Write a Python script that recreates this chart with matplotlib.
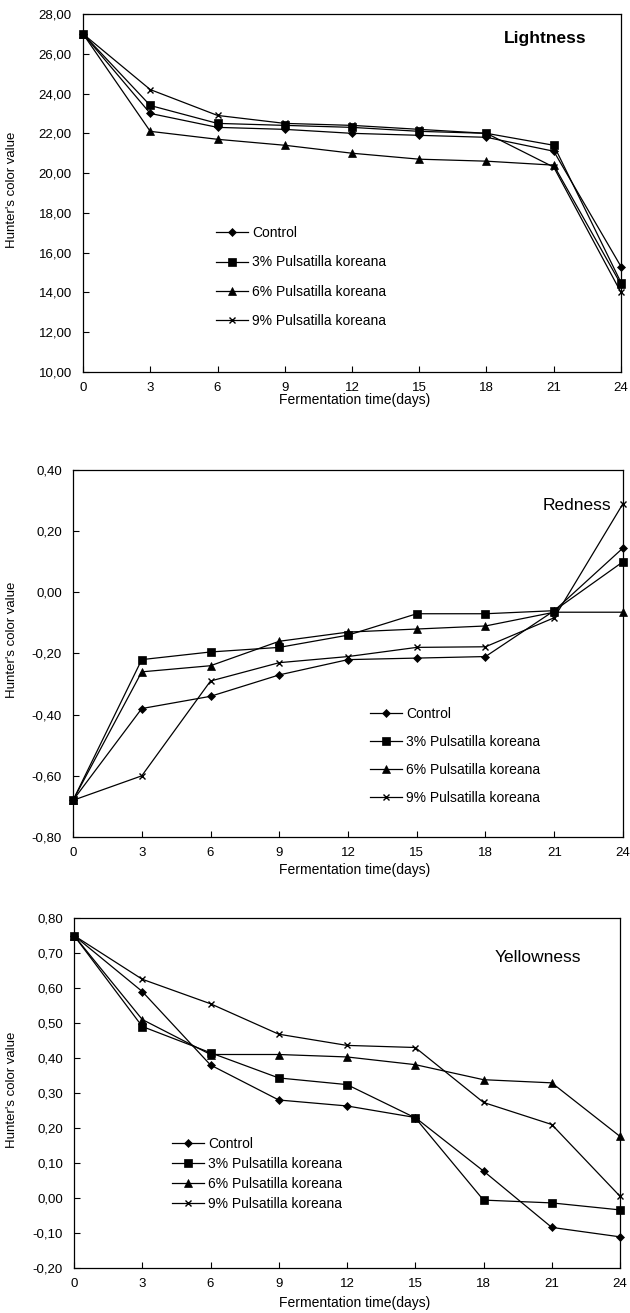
import numpy as np
import matplotlib
matplotlib.use("Agg")
import matplotlib.pyplot as plt
from matplotlib.ticker import FuncFormatter

plt.rcParams["font.family"] = ["Liberation Sans", "DejaVu Sans"]

days = [0, 3, 6, 9, 12, 15, 18, 21, 24]
series_names = ["Control", "3% Pulsatilla koreana",
                "6% Pulsatilla koreana", "9% Pulsatilla koreana"]

# Hunter L (lightness)
light_control = [27.0, 23.0, 22.3, 22.2, 22.0, 21.9, 21.8, 21.1, 15.3]
light_p3 = [27.0, 23.4, 22.5, 22.4, 22.3, 22.1, 22.0, 21.4, 14.5]
light_p6 = [27.0, 22.1, 21.7, 21.4, 21.0, 20.7, 20.6, 20.4, 14.4]
light_p9 = [27.0, 24.2, 22.9, 22.5, 22.4, 22.2, 22.0, 20.3, 14.0]
light_ticks = [10, 12, 14, 16, 18, 20, 22, 24, 26, 28]

# Hunter a (redness)
red_control = [-0.68, -0.38, -0.34, -0.27, -0.22, -0.215, -0.21, -0.06, 0.145]
red_p3 = [-0.68, -0.22, -0.195, -0.18, -0.14, -0.07, -0.07, -0.06, 0.10]
red_p6 = [-0.68, -0.26, -0.24, -0.16, -0.13, -0.12, -0.11, -0.065, -0.065]
red_p9 = [-0.68, -0.60, -0.29, -0.23, -0.21, -0.18, -0.178, -0.083, 0.29]
red_ticks = [-0.8, -0.6, -0.4, -0.2, 0.0, 0.2, 0.4]

# Hunter b (yellowness)
yel_control = [0.75, 0.59, 0.38, 0.28, 0.263, 0.23, 0.077, -0.084, -0.111]
yel_p3 = [0.75, 0.49, 0.415, 0.343, 0.324, 0.229, -0.006, -0.014, -0.034]
yel_p6 = [0.75, 0.51, 0.41, 0.41, 0.403, 0.381, 0.338, 0.329, 0.176]
yel_p9 = [0.75, 0.625, 0.555, 0.468, 0.436, 0.43, 0.273, 0.21, 0.005]
yel_ticks = [-0.2, -0.1, 0.0, 0.1, 0.2, 0.3, 0.4, 0.5, 0.6, 0.7, 0.8]

markers = ["D", "s", "^", "x"]
marker_sizes = [4, 5.5, 6, 5]

W, H = 630, 1313
fig = plt.figure(figsize=(W / 100, H / 100), dpi=100)


def px_axes(left, top, right, bottom):
    return fig.add_axes([left / W, 1 - bottom / H, (right - left) / W, (bottom - top) / H])


def comma_fmt(v, pos):
    v = round(v, 6) + 0.0
    return f"{v:.2f}".replace(".", ",").replace("-0,00", "0,00")


def draw_panel(ax, data, ylim, yticks, title, title_xy, title_kw,
               legend_xy, labelspacing, xlabel_y, ylabel_y):
    for vals, m, ms, name in zip(data, markers, marker_sizes, series_names):
        ax.plot(days, vals, color="black", lw=0.9, marker=m, ms=ms,
                mew=1.0 if m == "x" else 0.5, mfc="black", mec="black",
                label=name, clip_on=False, zorder=3)
    ax.set_xlim(0, 24)
    ax.set_ylim(*ylim)
    ax.set_xticks(range(0, 25, 3))
    ax.set_yticks(yticks)
    ax.yaxis.set_major_formatter(FuncFormatter(comma_fmt))
    ax.tick_params(direction="in", length=4, width=0.8, labelsize=9.5)
    ax.tick_params(axis="y", pad=8)
    ax.tick_params(axis="x", pad=7)
    for s in ax.spines.values():
        s.set_linewidth(0.9)
    fig.text(title_xy[0] / W, 1 - title_xy[1] / H, title,
             ha="center", va="center", **title_kw)
    ax.legend(loc="center left", bbox_to_anchor=(legend_xy[0] / W, 1 - legend_xy[1] / H),
              bbox_transform=fig.transFigure, frameon=False, fontsize=10,
              borderpad=0, handlelength=2.3, handletextpad=0.3,
              labelspacing=labelspacing, numpoints=1)
    fig.text(355 / W, 1 - xlabel_y / H, "Fermentation time(days)",
             ha="center", va="center", fontsize=10)
    fig.text(12 / W, 1 - ylabel_y / H, "Hunter's color value",
             ha="center", va="center", rotation=90, fontsize=9.5)


ax1 = px_axes(83, 14, 621, 372)
draw_panel(ax1, [light_control, light_p3, light_p6, light_p9],
           (10, 28), light_ticks, "Lightness", (545, 39),
           dict(fontsize=12.5, fontweight="bold"), (209, 277), 1.1, 400, 190)

ax2 = px_axes(73, 470, 623, 837)
draw_panel(ax2, [red_control, red_p3, red_p6, red_p9],
           (-0.8, 0.4), red_ticks, "Redness", (577, 505),
           dict(fontsize=12.5), (363, 756), 1.0, 870, 640)

ax3 = px_axes(74, 918, 620, 1268)
draw_panel(ax3, [yel_control, yel_p3, yel_p6, yel_p9],
           (-0.2, 0.8), yel_ticks, "Yellowness", (538, 958),
           dict(fontsize=12.5), (165, 1174), 0.42, 1303, 1090)

fig.savefig("out.png", dpi=100)
